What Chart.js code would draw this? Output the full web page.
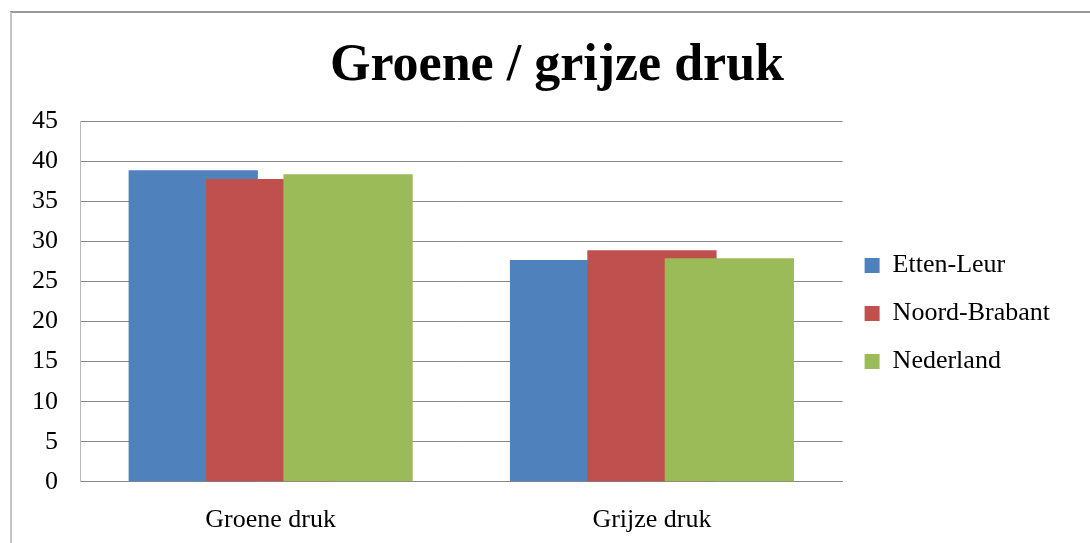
<!DOCTYPE html>
<html lang="nl">
<head>
  <meta charset="UTF-8" />
  <title>Groene / grijze druk</title>
  <script src="https://cdn.jsdelivr.net/npm/chart.js"></script>
  <style>
    html, body {
      margin: 0;
      padding: 0;
      background: #fff;
    }
    .frame {
      position: absolute;
      left: 10px;
      top: 11px;
      width: 1078px;
      height: 530px;
      border-left: 2px solid #c4c4c4;
      border-top: 2px solid #999;
    }
  </style>
</head>
<body>
<div class="frame">
  <canvas id="drukChart" width="1078" height="530"></canvas>
</div>

<script>
  const categories = ["Groene druk", "Grijze druk"];
  const ettenLeur = [38.9, 27.7];
  const noordBrabant = [37.8, 28.9];
  const nederland = [38.4, 27.9];
  const yTicks = [0, 5, 10, 15, 20, 25, 30, 35, 40, 45];

  // Excel-achtige overlap: latere reeks ligt bovenop de vorige
  const drawForward = {
    id: "drawForward",
    beforeDatasetsDraw(chart) {
      chart.getSortedVisibleDatasetMetas().forEach(m => m.controller.draw());
      return false;
    }
  };

  // legenda iets breder maken, zodat de titel mooi gecentreerd blijft
  const widerLegend = {
    id: "widerLegend",
    beforeLayout(chart) {
      const lg = chart.legend;
      if (lg && !lg._wider) {
        const fit = lg.fit.bind(lg);
        lg.fit = function () { fit(); this.width += 44; };
        lg._wider = true;
      }
    }
  };

  const font = "'Liberation Serif', serif";

  new Chart(document.getElementById("drukChart"), {
    type: "bar",
    data: {
      labels: categories,
      datasets: [
        { label: "Etten-Leur", data: ettenLeur, backgroundColor: "#4F81BD" },
        { label: "Noord-Brabant", data: noordBrabant, backgroundColor: "#C0504D" },
        { label: "Nederland", data: nederland, backgroundColor: "#9BBB59" }
      ]
    },
    options: {
      responsive: false,
      animation: false,
      datasets: {
        bar: { categoryPercentage: 0.609, barPercentage: 1.67 }
      },
      layout: { padding: { left: -2, right: -14, top: 0, bottom: -8 } },
      plugins: {
        title: {
          display: true,
          text: "Groene / grijze druk",
          color: "#000",
          font: { family: font, size: 52, weight: "bold" },
          padding: { top: 22, bottom: 24 }
        },
        legend: {
          position: "right",
          fullSize: false,
          title: { display: true, text: " ", padding: 0, font: { size: 20 } },
          labels: {
            color: "#000",
            font: { family: font, size: 26 },
            boxWidth: 15,
            boxHeight: 15,
            padding: 22
          }
        },
        tooltip: { enabled: false }
      },
      scales: {
        x: {
          grid: { display: false },
          border: { color: "#888" },
          ticks: { color: "#000", font: { family: font, size: 26 }, padding: 15 }
        },
        y: {
          min: 0,
          max: 45,
          afterBuildTicks(axis) {
            axis.ticks = yTicks.map(v => ({ value: v }));
          },
          grid: { color: "#888", drawTicks: false },
          border: { color: "#bbb" },
          ticks: { color: "#000", font: { family: font, size: 26 }, padding: 22 }
        }
      }
    },
    plugins: [drawForward, widerLegend]
  });
</script>
</body>
</html>
